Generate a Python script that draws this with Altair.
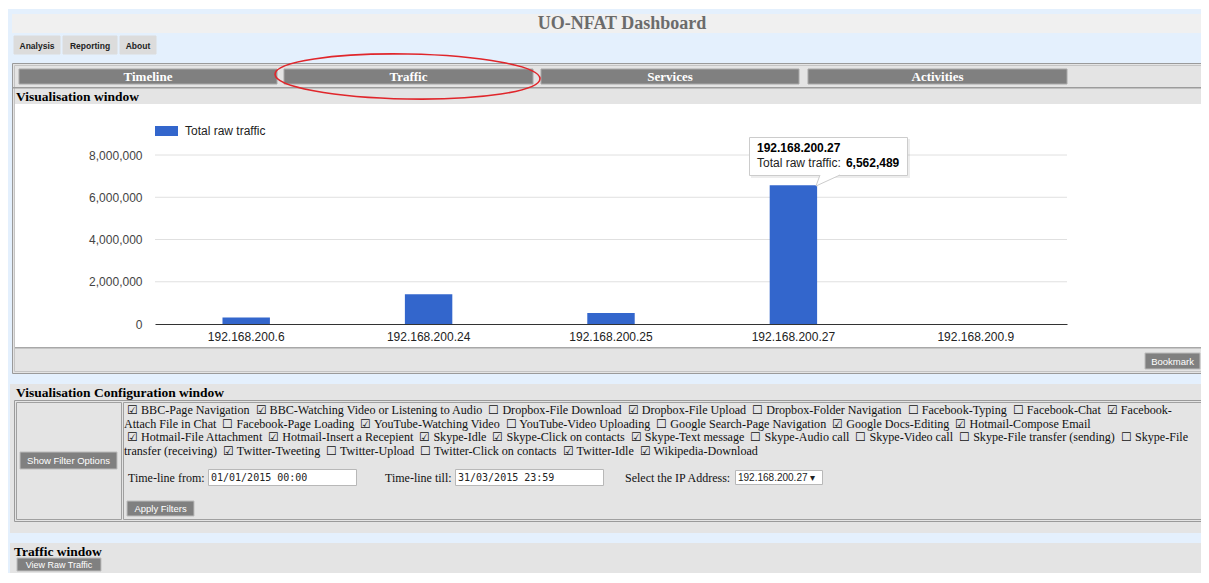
import altair as alt
import pandas as pd

# ---------------- data ----------------
ips = ["192.168.200.6", "192.168.200.24", "192.168.200.25", "192.168.200.27", "192.168.200.9"]
traffic = [310000, 1410000, 520000, 6562489, 0]
series_name = "Total raw traffic"
y_ticks = [0, 2000000, 4000000, 6000000, 8000000]
grid_ticks = [2000000, 4000000, 6000000, 8000000]
highlight_ip = "192.168.200.27"

page_title = "UO-NFAT Dashboard"
menu_items = ["Analysis", "Reporting", "About"]
tab_names = ["Timeline", "Traffic", "Services", "Activities"]
S = "\u00a0 "
filter_lines = [
    f"☑ BBC-Page Navigation{S}☑ BBC-Watching Video or Listening to Audio{S}☐ Dropbox-File Download{S}☑ Dropbox-File Upload{S}☐ Dropbox-Folder Navigation{S}☐ Facebook-Typing{S}☐ Facebook-Chat{S}☑ Facebook-",
    f"Attach File in Chat{S}☐ Facebook-Page Loading{S}☑ YouTube-Watching Video{S}☐ YouTube-Video Uploading{S}☐ Google Search-Page Navigation{S}☑ Google Docs-Editing{S}☑ Hotmail-Compose Email",
    f"☑ Hotmail-File Attachment{S}☑ Hotmail-Insert a Recepient{S}☑ Skype-Idle{S}☑ Skype-Click on contacts{S}☑ Skype-Text message{S}☐ Skype-Audio call{S}☐ Skype-Video call{S}☐ Skype-File transfer (sending){S}☐ Skype-File",
    f"transfer (receiving){S}☑ Twitter-Tweeting{S}☐ Twitter-Upload{S}☐ Twitter-Click on contacts{S}☑ Twitter-Idle{S}☑ Wikipedia-Download",
]
time_from = "01/01/2015 00:00"
time_till = "31/03/2015 23:59"

df = pd.DataFrame({"ip": ips, "value": traffic, "series": series_name})
grid_df = pd.DataFrame({"value": grid_ticks})

# ---------------- layout helpers ----------------
OX, OY = 155, 155          # plot origin in page pixels
W, H = 912, 169
SANS = "Liberation Sans"
SERIF = "Liberation Serif"
MONO = "DejaVu Sans Mono"
ONE = alt.Data(values=[{"k": 1}])


def box(x0, y0, x1, y1, fill="#e4e4e4", stroke=None, sw=1, opacity=1.0, fill_opacity=None):
    kw = dict(fill=fill, opacity=opacity)
    if fill_opacity is not None:
        kw["fillOpacity"] = fill_opacity
    if stroke:
        kw.update(stroke=stroke, strokeWidth=sw)
    else:
        kw.update(strokeWidth=0)
    return alt.Chart(ONE).mark_rect(**kw).encode(
        x=alt.value(x0 - OX), x2=alt.value(x1 - OX),
        y=alt.value(y0 - OY), y2=alt.value(y1 - OY))


def label(x, y, s, size=12, font=SANS, weight="normal", color="#222", align="left"):
    return alt.Chart(ONE).mark_text(
        text=s, fontSize=size, font=font, fontWeight=weight, color=color,
        align=align, baseline="middle").encode(
        x=alt.value(x - OX), y=alt.value(y - OY))


def button(x0, y0, x1, y1, s, fill="#808080", color="white", size=9.5, weight="normal", stroke="#bdbdbd"):
    return [box(x0, y0, x1, y1, fill=fill, stroke=stroke, sw=1),
            label((x0 + x1) / 2, (y0 + y1) / 2 + 0.5, s, size=size, color=color, weight=weight, align="center")]


layers = []
# page background
layers.append(box(7, 9, 1215, 600, fill="#e4f0fd"))
# header
layers.append(box(12, 14, 1215, 33, fill="#f0f0f0"))
layers.append(label(622, 23.5, page_title, size=18, font=SERIF, weight="bold", color="#6b6b6b", align="center"))
# menu buttons
for (x0, x1), name in zip([(14, 60), (63, 117), (120, 156)], menu_items):
    layers += button(x0, 36, x1, 54, name, fill="#dcdcdc", color="#222", size=8.5, weight="bold", stroke="#dcdcdc")

# main visualisation panel
layers.append(box(12.5, 63.5, 1206.5, 373.5, fill="#e4e4e4", stroke="#9a9a9a"))
layers.append(box(14.5, 65.5, 1204.5, 371.5, fill="#e4e4e4", stroke="#c4c4c4", fill_opacity=0))
for (x0, x1), name in zip([(19, 277), (284, 533), (541, 799), (808, 1067)], tab_names):
    layers.append(box(x0, 69, x1, 84, fill="#808080", stroke="#a8a8a8"))
    layers.append(label((x0 + x1) / 2, 77, name, size=13, font=SERIF, weight="bold", color="white", align="center"))
layers.append(box(13, 87, 1206, 88.5, fill="#9c9c9c"))
layers.append(label(16, 96.5, "Visualisation window", size=13.5, font=SERIF, weight="bold", color="#000"))
layers.append(box(15, 104, 1205, 347, fill="white"))
layers.append(box(15, 347, 1205, 348.5, fill="#a8a8a8"))
layers += button(1145, 353, 1200, 369, "Bookmark")

# ---------------- chart ----------------
xscale = alt.Scale(domain=ips, paddingInner=0.74, paddingOuter=0.37)
yscale = alt.Scale(domain=[0, 8000000], nice=False)
xaxis = alt.Axis(title=None, labelAngle=0, ticks=False, domain=True, domainColor="#333333",
                 domainWidth=1, labelPadding=7, labelFont=SANS, labelFontSize=12,
                 labelColor="#222222", grid=False, zindex=1)
yaxis = alt.Axis(title=None, values=y_ticks, format=",d", grid=False, domain=False, ticks=False,
                 labelPadding=13, labelFont=SANS, labelFontSize=12, labelColor="#444444", zindex=1)

grid = alt.Chart(grid_df).mark_rule(color="#e0e0e0", strokeWidth=1).encode(
    y=alt.Y("value:Q", scale=yscale, axis=yaxis))

bars = alt.Chart(df).mark_bar().encode(
    x=alt.X("ip:N", scale=xscale, axis=xaxis, sort=ips),
    y=alt.Y("value:Q", scale=yscale, axis=yaxis),
    color=alt.Color("series:N", scale=alt.Scale(domain=[series_name], range=["#3366cc"]),
                    legend=alt.Legend(orient="none", legendX=0, legendY=-35.5, title=None,
                                      symbolType="M-1,-0.435H1V0.435H-1Z", symbolSize=529,
                                      symbolStrokeWidth=0, symbolOpacity=1,
                                      labelFont=SANS, labelFontSize=12, labelColor="#222222",
                                      labelOffset=7, padding=0, zindex=1)))
layers += [grid, bars]

# tooltip
layers.append(box(751, 139, 910, 178, fill="#000000", opacity=0.07))
layers.append(box(749.5, 137.5, 907.5, 175.5, fill="white", stroke="#cccccc"))
layers.append(alt.Chart(ONE).mark_point(
    shape="M0,-1L-4,10L20,-1", size=4, filled=True, fill="white", stroke="#cccccc",
    strokeWidth=1, opacity=1).encode(x=alt.value(820 - OX), y=alt.value(176 - OY)))
hl = alt.Chart(df).transform_filter(alt.datum.ip == highlight_ip).transform_calculate(
    lab="format(datum.value, ',')")
layers.append(hl.mark_text(align="left", baseline="middle", font=SANS, fontSize=12,
                           fontWeight="bold", color="#000", dx=-36.4, dy=-37.4).encode(
    x=alt.X("ip:N", scale=xscale, axis=xaxis, sort=ips),
    y=alt.Y("value:Q", scale=yscale, axis=yaxis), text="ip:N"))
layers.append(hl.mark_text(align="left", baseline="middle", font=SANS, fontSize=12,
                           color="#222", dx=-36.4, dy=-22.7, text=series_name + ":").encode(
    x=alt.X("ip:N", scale=xscale, axis=xaxis, sort=ips),
    y=alt.Y("value:Q", scale=yscale, axis=yaxis)))
layers.append(hl.mark_text(align="left", baseline="middle", font=SANS, fontSize=12,
                           fontWeight="bold", color="#000", dx=52.5, dy=-22.7).encode(
    x=alt.X("ip:N", scale=xscale, axis=xaxis, sort=ips),
    y=alt.Y("value:Q", scale=yscale, axis=yaxis), text="lab:N"))

# red ellipse round the Traffic tab
layers.append(alt.Chart(ONE).mark_point(
    shape="M-1,0A1,0.17 0 1,1 1,0A1,0.17 0 1,1 -1,0Z", size=265 * 265, filled=False,
    stroke="#e0262b", strokeWidth=1.6, opacity=1, angle=1).encode(
    x=alt.value(407.5 - OX), y=alt.value(76.5 - OY)))

# configuration window
layers.append(box(10, 384, 1215, 533, fill="#e4e4e4"))
layers.append(label(16, 392.5, "Visualisation Configuration window", size=13.5, font=SERIF, weight="bold", color="#000"))
layers.append(box(14.5, 400.5, 1206.5, 521.5, fill="#e4e4e4", stroke="#9a9a9a"))
layers.append(box(16.5, 402.5, 121.5, 519.5, fill="#e4e4e4", stroke="#a0a0a0", fill_opacity=0))
layers.append(box(123.5, 402.5, 1204.5, 519.5, fill="#e4e4e4", stroke="#a0a0a0", fill_opacity=0))
layers += button(20, 452, 117, 469, "Show Filter Options")
for (x, y), line in zip([(127, 410), (124, 423.5), (127, 437), (124, 450.5)], filter_lines):
    layers.append(label(x, y, line, size=12.1, font=SERIF, color="#111"))
layers.append(label(128, 477.5, "Time-line from:", size=12, font=SERIF, color="#111"))
layers.append(box(208.5, 469.5, 356.5, 485.5, fill="white", stroke="#b8b8b8"))
layers.append(label(211, 477.5, time_from, size=10, font=MONO, color="#222"))
layers.append(label(385, 477.5, "Time-line till:", size=12, font=SERIF, color="#111"))
layers.append(box(455.5, 469.5, 603.5, 485.5, fill="white", stroke="#b8b8b8"))
layers.append(label(458, 477.5, time_till, size=10, font=MONO, color="#222"))
layers.append(label(625, 477.5, "Select the IP Address:", size=12, font=SERIF, color="#111"))
layers.append(box(735.5, 470.5, 822.5, 484.5, fill="white", stroke="#b8b8b8"))
layers.append(label(738, 477.5, highlight_ip + " ▾", size=10, font=SANS, color="#222"))
layers += button(127, 501, 194, 516, "Apply Filters")

# traffic window
layers.append(box(10, 543, 1215, 600, fill="#e4e4e4"))
layers.append(label(14, 551.5, "Traffic window", size=13.5, font=SERIF, weight="bold", color="#000"))
layers += button(17, 558, 101, 571, "View Raw Traffic", size=9)

chart = alt.layer(*layers).properties(
    width=W, height=H,
    autosize=alt.AutoSizeParams(type="none"),
    padding={"left": 147, "top": 147, "right": 134, "bottom": 249},
    background="white",
).configure_view(strokeWidth=0)

chart.save("out.html", embed_options={"renderer": "svg", "actions": False})
